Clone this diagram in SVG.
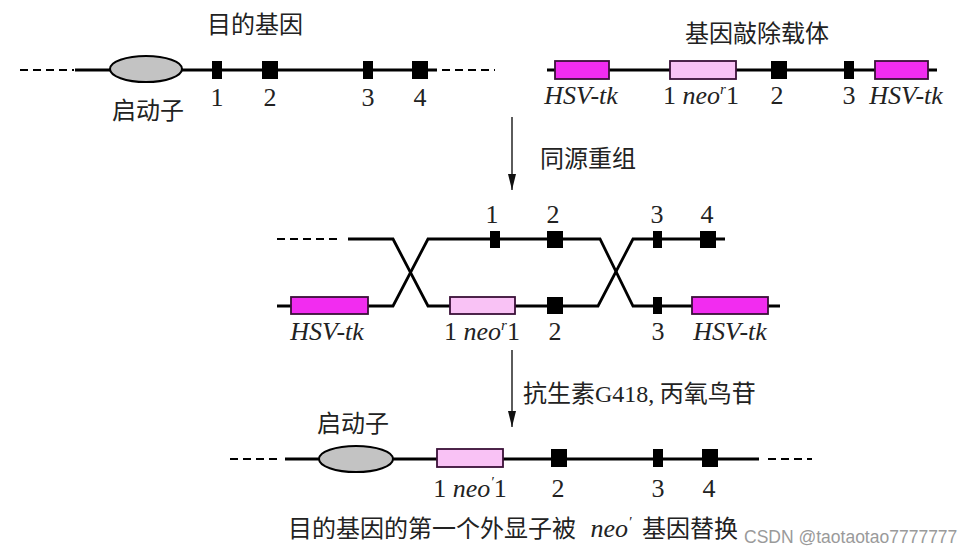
<svg xmlns="http://www.w3.org/2000/svg" width="961" height="552" viewBox="0 0 961 552">
<defs>
<style>
.ln{stroke:#000;stroke-width:2.8;fill:none}
.dash{stroke:#000;stroke-width:2.2;fill:none;stroke-dasharray:8 5}
.ex{fill:#000}
.hsv{fill:#f22cf0;stroke:#3a1038;stroke-width:1.8}
.neo{fill:#f9c2f5;stroke:#3a1038;stroke-width:1.8}
.prom{fill:#c3c3c3;stroke:#000;stroke-width:2}
.cn{font-family:"Noto Sans CJK SC","Noto Sans",sans-serif;font-size:24px;fill:#222}
.num{font-family:"Liberation Serif","Times New Roman",serif;font-size:26px;fill:#222;text-anchor:middle}
.it{font-style:italic}
.arr{stroke:#333;stroke-width:1.6;fill:none}
.wm{font-family:"Liberation Sans",Arial,sans-serif;font-size:17.5px;fill:#9a9a9a}
</style>
<marker id="ah" viewBox="0 0 20 10" refX="20" refY="5" markerWidth="16" markerHeight="8" markerUnits="userSpaceOnUse" orient="auto">
<path d="M0,0 L20,5 L0,10 Z" fill="#111"/>
</marker>
</defs>
<rect width="961" height="552" fill="#fff"/>

<!-- Target gene (top left) -->
<g id="target-gene">
<path class="dash" d="M20,70 H74"/>
<path class="ln" d="M75,70 H437"/>
<path class="dash" d="M442,70 H495"/>
<ellipse class="prom" cx="146" cy="69" rx="36" ry="13"/>
<rect class="ex" x="212" y="61" width="10" height="18"/>
<rect class="ex" x="262" y="61" width="16" height="18"/>
<rect class="ex" x="363" y="61" width="10" height="18"/>
<rect class="ex" x="412" y="61" width="16" height="18"/>
<text class="cn" x="255" y="33" text-anchor="middle">目的基因</text>
<text class="cn" x="148" y="119" text-anchor="middle">启动子</text>
<text class="num" x="217" y="106">1</text>
<text class="num" x="270" y="106">2</text>
<text class="num" x="368" y="106">3</text>
<text class="num" x="420" y="106">4</text>
</g>

<!-- Knockout vector (top right) -->
<g id="knockout-vector">
<path class="ln" d="M547,70 H937"/>
<rect class="hsv" x="555" y="61" width="54" height="18"/>
<rect class="neo" x="670" y="61" width="66" height="18"/>
<rect class="ex" x="771" y="61" width="16" height="18"/>
<rect class="ex" x="844" y="61" width="10" height="18"/>
<rect class="hsv" x="875" y="61" width="53" height="18"/>
<text class="cn" x="757" y="42" text-anchor="middle">基因敲除载体</text>
<text class="num it" x="581" y="104" font-size="25">HSV-tk</text>
<text class="num" x="701" y="104">1 <tspan class="it">neo</tspan><tspan class="it" font-size="15" dy="-10">r</tspan><tspan dy="10">1</tspan></text>
<text class="num" x="777" y="104">2</text>
<text class="num" x="849" y="104">3</text>
<text class="num it" x="906" y="104" font-size="25">HSV-tk</text>
</g>

<!-- Recombination (middle) -->
<g id="recombination">
<path class="dash" d="M277,239 H342"/>
<path class="ln" d="M348,239 H393 L428,306 H598 L633,239 H725"/>
<path class="ln" d="M277,306 H393 L428,239 H600 L633,306 H780"/>
<rect class="hsv" x="291" y="297" width="77" height="17"/>
<rect class="neo" x="450" y="297" width="65" height="17"/>
<rect class="ex" x="547" y="297" width="16" height="17"/>
<rect class="ex" x="653" y="297" width="9" height="17"/>
<rect class="hsv" x="692" y="297" width="76" height="17"/>
<rect class="ex" x="490" y="231" width="10" height="17"/>
<rect class="ex" x="547" y="231" width="16" height="17"/>
<rect class="ex" x="653" y="231" width="9" height="17"/>
<rect class="ex" x="700" y="231" width="16" height="17"/>
<text class="num" x="492" y="223">1</text>
<text class="num" x="553" y="223">2</text>
<text class="num" x="657" y="223">3</text>
<text class="num" x="707" y="223">4</text>
<text class="num it" x="327" y="340" font-size="25">HSV-tk</text>
<text class="num" x="482" y="340">1 <tspan class="it">neo</tspan><tspan class="it" font-size="15" dy="-10">r</tspan><tspan dy="10">1</tspan></text>
<text class="num" x="555" y="340">2</text>
<text class="num" x="658" y="340">3</text>
<text class="num it" x="730" y="340" font-size="25">HSV-tk</text>
</g>

<!-- Result (bottom) -->
<g id="result">
<path class="dash" d="M230,459 H282"/>
<path class="ln" d="M285,459 H759"/>
<path class="dash" d="M768,459 H812"/>
<ellipse class="prom" cx="356" cy="459" rx="37" ry="13"/>
<rect class="neo" x="437" y="449" width="66" height="18"/>
<rect class="ex" x="551" y="449" width="16" height="18"/>
<rect class="ex" x="653" y="449" width="10" height="18"/>
<rect class="ex" x="702" y="449" width="16" height="18"/>
<text class="cn" x="353" y="432" text-anchor="middle">启动子</text>
<text class="num" x="470" y="497">1 <tspan class="it">neo</tspan><tspan class="it" font-size="15" dy="-10">′</tspan><tspan dy="10">1</tspan></text>
<text class="num" x="558" y="497">2</text>
<text class="num" x="658" y="497">3</text>
<text class="num" x="709" y="497">4</text>
<text class="cn" x="288" y="537" font-size="24.5">目的基因的第一个外显子被</text>
<text class="num it" x="611" y="537">neo<tspan font-size="15" dy="-10">′</tspan></text>
<text class="cn" x="642" y="537" font-size="24.5">基因替换</text>
</g>

<!-- Connectors (process arrows) -->
<g id="connectors">
<path class="arr" d="M512,117 V190" marker-end="url(#ah)"/>
<path class="arr" d="M512,350 V427" marker-end="url(#ah)"/>
</g>
<g id="arrow-labels">
<text class="cn" x="540" y="167">同源重组</text>
<text class="cn" x="523" y="402" font-size="25">抗生素<tspan font-family="Liberation Serif,serif">G418,</tspan> 丙氧鸟苷</text>
</g>

<text class="wm" x="744" y="543">CSDN @taotaotao7777777</text>
</svg>
